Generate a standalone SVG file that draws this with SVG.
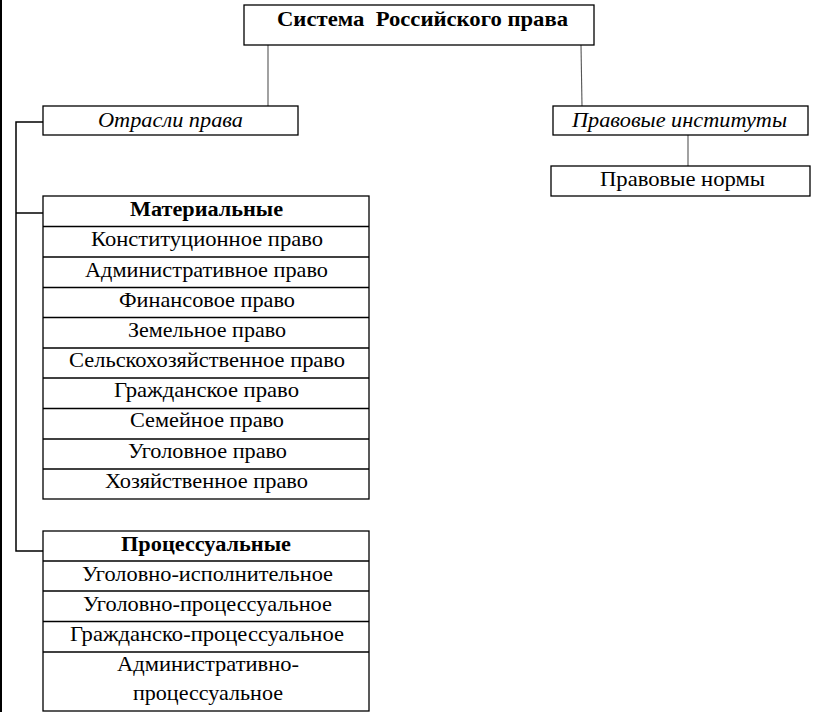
<svg xmlns="http://www.w3.org/2000/svg" width="816" height="714" viewBox="0 0 816 714">
<style>
.box{fill:#fff;stroke:#000;stroke-width:1.3}
.row{stroke:#000;stroke-width:1.3}
.con{stroke:#555;stroke-width:1.1;fill:none}
.br{stroke:#000;stroke-width:1.5;fill:none}
text{font-family:"Liberation Serif","Times New Roman",serif;font-size:21px;fill:#000}
.b{font-weight:bold;font-size:20px}
.t{font-weight:bold;font-size:22px;white-space:pre}
.i{font-style:italic}
</style>
<rect x="0" y="0" width="816" height="714" fill="#fff"/>
<line x1="1" y1="0" x2="1" y2="712" stroke="#000" stroke-width="2"/>
<g id="connectors">
<line class="con" x1="268" y1="45" x2="268" y2="106"/>
<line class="con" x1="581" y1="45" x2="582" y2="106"/>
<line class="con" x1="688" y1="135" x2="688" y2="166"/>
<polyline class="br" points="43,122 16,122 16,551 43,551"/>
<line class="br" x1="16" y1="213" x2="43" y2="213"/>
</g>
<g id="root">
<rect class="box" x="244" y="5" width="350" height="40"/>
<text class="t" xml:space="preserve" x="277" y="26" textLength="291" lengthAdjust="spacingAndGlyphs">Система  Российского права</text>
</g>
<g id="otrasli">
<rect class="box" x="43" y="106" width="255" height="29"/>
<text class="i" x="98" y="127" textLength="145" lengthAdjust="spacingAndGlyphs">Отрасли права</text>
</g>
<g id="instituty">
<rect class="box" x="553" y="106" width="255" height="29"/>
<text class="i" x="572" y="127" textLength="215" lengthAdjust="spacingAndGlyphs">Правовые институты</text>
</g>
<g id="normy">
<rect class="box" x="551" y="166" width="259" height="30"/>
<text x="600" y="186" textLength="165" lengthAdjust="spacingAndGlyphs">Правовые нормы</text>
</g>
<g id="materialnye">
<rect class="box" x="43" y="196" width="326" height="303"/>
<line class="row" x1="43" y1="226.5" x2="369" y2="226.5"/>
<line class="row" x1="43" y1="257" x2="369" y2="257"/>
<line class="row" x1="43" y1="287.5" x2="369" y2="287.5"/>
<line class="row" x1="43" y1="317.5" x2="369" y2="317.5"/>
<line class="row" x1="43" y1="348" x2="369" y2="348"/>
<line class="row" x1="43" y1="378" x2="369" y2="378"/>
<line class="row" x1="43" y1="408.5" x2="369" y2="408.5"/>
<line class="row" x1="43" y1="439" x2="369" y2="439"/>
<line class="row" x1="43" y1="469" x2="369" y2="469"/>
<text class="b" x="130" y="216" textLength="153" lengthAdjust="spacingAndGlyphs">Материальные</text>
<text x="91" y="246" textLength="232" lengthAdjust="spacingAndGlyphs">Конституционное право</text>
<text x="85" y="277" textLength="243" lengthAdjust="spacingAndGlyphs">Административное право</text>
<text x="119" y="307" textLength="176" lengthAdjust="spacingAndGlyphs">Финансовое право</text>
<text x="128" y="337" textLength="158" lengthAdjust="spacingAndGlyphs">Земельное право</text>
<text x="69" y="367" textLength="276" lengthAdjust="spacingAndGlyphs">Сельскохозяйственное право</text>
<text x="114" y="397" textLength="185" lengthAdjust="spacingAndGlyphs">Гражданское право</text>
<text x="130" y="427" textLength="154" lengthAdjust="spacingAndGlyphs">Семейное право</text>
<text x="128" y="458" textLength="159" lengthAdjust="spacingAndGlyphs">Уголовное право</text>
<text x="105" y="488" textLength="203" lengthAdjust="spacingAndGlyphs">Хозяйственное право</text>
</g>
<g id="processualnye">
<rect class="box" x="43" y="531" width="326" height="180"/>
<line class="row" x1="43" y1="561" x2="369" y2="561"/>
<line class="row" x1="43" y1="591" x2="369" y2="591"/>
<line class="row" x1="43" y1="621.5" x2="369" y2="621.5"/>
<line class="row" x1="43" y1="652" x2="369" y2="652"/>
<text class="b" x="121" y="551" textLength="170" lengthAdjust="spacingAndGlyphs">Процессуальные</text>
<text x="82" y="581" textLength="251" lengthAdjust="spacingAndGlyphs">Уголовно-исполнительное</text>
<text x="83" y="611" textLength="249" lengthAdjust="spacingAndGlyphs">Уголовно-процессуальное</text>
<text x="70" y="641" textLength="274" lengthAdjust="spacingAndGlyphs">Гражданско-процессуальное</text>
<text x="117" y="671" textLength="182" lengthAdjust="spacingAndGlyphs">Административно-</text>
<text x="133" y="700" textLength="150" lengthAdjust="spacingAndGlyphs">процессуальное</text>
</g>
</svg>
